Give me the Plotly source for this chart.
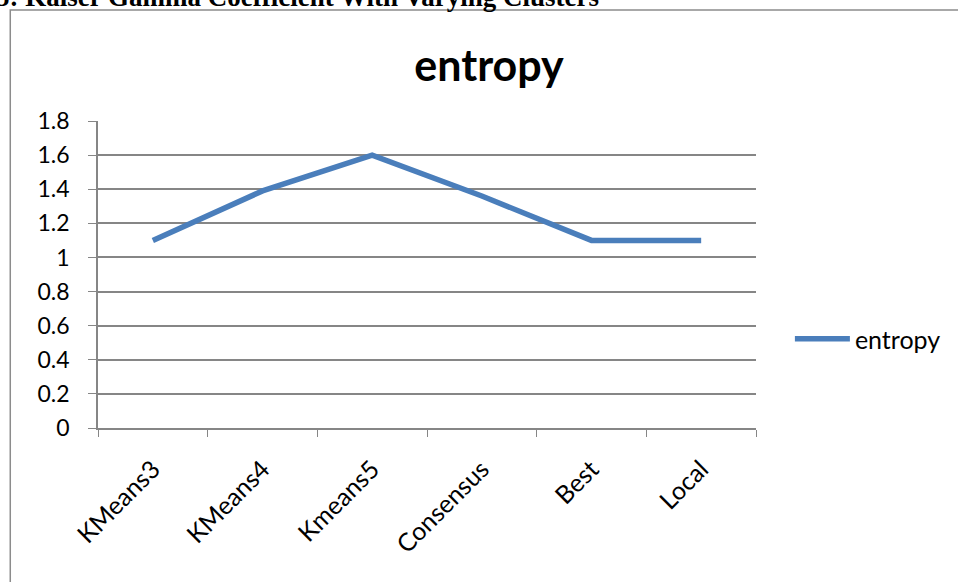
import plotly.graph_objects as go

categories = ["KMeans3", "KMeans4", "Kmeans5", "Consensus", "Best", "Local"]
entropy = [1.1, 1.39, 1.6, 1.36, 1.1, 1.1]
series_name = "entropy"
chart_title = "entropy"
caption = "5: Kaiser Gamma Coefficient With Varying Clusters"

W, H = 958, 582
L, R, T, B = 98, 758, 121, 428

def px(x):
    return (x - L) / (R - L)

def py(y):
    return (B - y) / (B - T)

fig = go.Figure()
fig.add_trace(go.Scatter(
    x=categories, y=entropy, mode="lines", name=series_name,
    line=dict(color="#4A7EBB", width=5.5),
))

grey = "#868686"
fig.update_layout(
    width=W, height=H,
    margin=dict(l=L, r=W - R, t=T, b=H - B),
    paper_bgcolor="white", plot_bgcolor="white",
    font=dict(family="Lato, Open Sans, sans-serif", color="black", size=22),
    title=dict(text="<b>" + chart_title + "</b>", x=489 / W, xref="container",
               xanchor="center", y=1 - 66 / H, yref="container", yanchor="middle",
               font=dict(size=43, family="Lato, Open Sans, sans-serif")),
    showlegend=True,
    legend=dict(x=px(792), y=py(339), xanchor="left", yanchor="middle",
                font=dict(size=25), itemwidth=55, bgcolor="rgba(0,0,0,0)"),
    xaxis=dict(type="category", tickson="boundaries", ticks="outside", ticklen=7,
               tickcolor=grey, showgrid=False, showline=True, linecolor=grey,
               linewidth=1.5, tickangle=-45, tickfont=dict(size=25),
               ticklabelstandoff=15,
               range=[-0.5, len(categories) - 0.5]),
    yaxis=dict(range=[0, 1.8], dtick=0.2, ticks="outside", ticklen=8,
               tickcolor=grey, showgrid=True, gridcolor=grey, gridwidth=1.5,
               showline=True, linecolor=grey, linewidth=1.5, zeroline=False,
               ticklabelstandoff=14, tickfont=dict(size=23)),
    shapes=[
        dict(type="rect", xref="paper", yref="paper",
             x0=px(10), x1=px(1000), y0=py(620), y1=py(10),
             line=dict(color="#8c8c8c", width=1.5), fillcolor="rgba(0,0,0,0)",
             layer="below"),
    ],
    annotations=[
        dict(text="<b>" + caption + "</b>", xref="paper", yref="paper",
             x=px(-6), y=py(-3), xanchor="left", yanchor="middle",
             showarrow=False,
             font=dict(family="Liberation Serif, serif", size=27, color="black")),
    ],
)

fig.write_html("out.html", config={"displayModeBar": False},
               post_script="document.body.style.margin='0';document.body.style.overflow='hidden';")
